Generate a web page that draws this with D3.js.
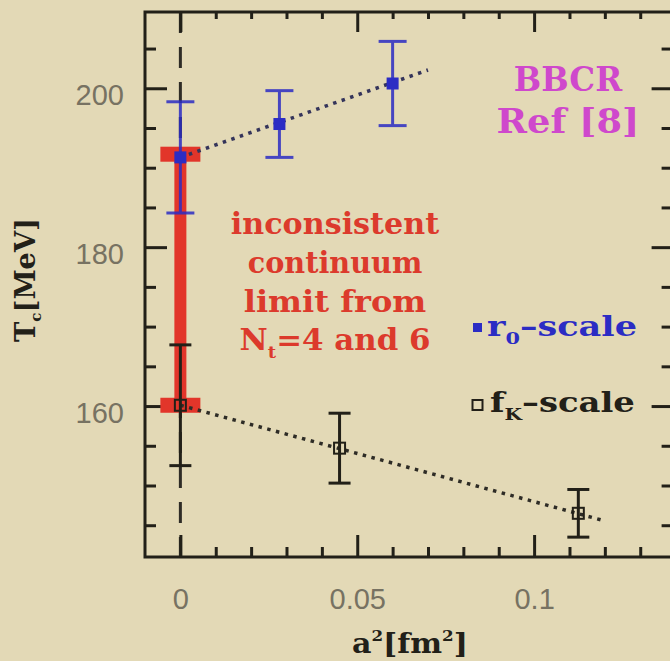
<!DOCTYPE html>
<html>
<head>
<meta charset="utf-8">
<script src="https://cdn.jsdelivr.net/npm/d3@7"></script>
<style>
  html, body { margin: 0; padding: 0; background: #e3d9b6; }
  svg { display: block; }
</style>
</head>
<body>
<svg id="chart" width="670" height="661"></svg>
<script>
// Transition temperature vs lattice spacing squared, two scale settings
const r0A2  = [0, 0.028, 0.060];          // a^2 [fm^2], r0-scale
const r0Tc  = [191.3, 195.5, 200.6];      // Tc [MeV]
const r0Err = [7.0, 4.2, 5.3];

const fkA2  = [0, 0.045, 0.1125];         // a^2 [fm^2], fK-scale
const fkTc  = [160.1, 154.7, 146.5];
const fkErr = [7.6, 4.4, 3.0];

// straight-line continuum extrapolations (end points)
const r0FitA2 = [0, 0.070];
const r0FitTc = [191.3, 202.3];
const fkFitA2 = [0, 0.1195];
const fkFitTc = [160.1, 145.6];

// spread of the two continuum values at a^2 = 0
const bandA2 = 0;
const bandTc = [160.1, 191.7];

const xMajor = [0, 0.05, 0.1];
const xTickLabels = ["0", "0.05", "0.1"];
const yMajor = [160, 180, 200];
const yTickLabels = ["160", "180", "200"];

const noteLines = ["inconsistent", "continuum", "limit from"];
const refLines = ["BBCR", "Ref [8]"];

const svg = d3.select("#chart");
const W = 670, H = 661;
const BG = "#e3d9b6", INK = "#222018";

svg.append("rect").attr("width", W).attr("height", H).attr("fill", BG);

const x = d3.scaleLinear().domain([-0.01, 0.14]).range([145, 675.6]);
const y = d3.scaleLinear().domain([141, 209.6]).range([557, 12]);
const [x0, x1] = x.range(), [y0, y1] = y.range();

// squeeze or stretch a text element horizontally to a given width
function fitWidth(sel, w, cx) {
  const bb = sel.node().getBBox();
  const sx = w / bb.width;
  const prev = sel.attr("transform") || "";
  sel.attr("transform", `${prev} translate(${cx},0) scale(${sx},1) translate(${-cx},0)`);
}

const serif = "DejaVu Serif, serif";

// vertical dashed reference line at a^2 = 0
svg.append("line")
  .attr("x1", x(0)).attr("x2", x(0)).attr("y1", y1).attr("y2", y0)
  .attr("stroke", "#2e2c26").attr("stroke-width", 3)
  .attr("stroke-dasharray", "21,14");

// ---- axes: ticks point inwards on all four sides ----
const minorX = d3.range(0.01, 0.135, 0.01).filter(v => !xMajor.some(m => Math.abs(m - v) < 1e-9));
const minorY = d3.range(145, 209, 5).filter(v => !yMajor.includes(v));

function styleAxis(g) {
  g.select(".domain").remove();
  g.selectAll(".tick line").attr("stroke", INK).attr("stroke-width", 3);
}

svg.append("g").attr("transform", `translate(0,${y0})`)
  .call(d3.axisBottom(x).tickValues(xMajor).tickSize(-22).tickPadding(31)
    .tickFormat((d, i) => xTickLabels[i]))
  .call(styleAxis)
  .call(g => g.selectAll("text").attr("font-family", "Liberation Sans, Arial, sans-serif")
    .attr("font-size", 29).attr("fill", "#777262"));
svg.append("g").attr("transform", `translate(0,${y0})`)
  .call(d3.axisBottom(x).tickValues(minorX).tickSize(-10).tickFormat(""))
  .call(styleAxis);

svg.append("g").attr("transform", `translate(0,${y1})`)
  .call(d3.axisTop(x).tickValues(xMajor).tickSize(-20).tickFormat(""))
  .call(styleAxis);
svg.append("g").attr("transform", `translate(0,${y1})`)
  .call(d3.axisTop(x).tickValues(minorX).tickSize(-7).tickFormat(""))
  .call(styleAxis);

svg.append("g").attr("transform", `translate(${x0},0)`)
  .call(d3.axisLeft(y).tickValues(yMajor).tickSize(-22).tickPadding(21)
    .tickFormat((d, i) => yTickLabels[i]))
  .call(styleAxis)
  .call(g => g.selectAll("text").attr("font-family", "Liberation Sans, Arial, sans-serif")
    .attr("font-size", 29).attr("fill", "#777262").attr("dy", "0.55em"));
svg.append("g").attr("transform", `translate(${x0},0)`)
  .call(d3.axisLeft(y).tickValues(minorY).tickSize(-11).tickFormat(""))
  .call(styleAxis);

svg.append("g").attr("transform", `translate(${x1},0)`)
  .call(d3.axisRight(y).tickValues(yMajor).tickSize(-24).tickFormat(""))
  .call(styleAxis);
svg.append("g").attr("transform", `translate(${x1},0)`)
  .call(d3.axisRight(y).tickValues(minorY).tickSize(-14).tickFormat(""))
  .call(styleAxis);

// ---- red band marking the inconsistent continuum values ----
const red = "#e2352a";
svg.append("rect")
  .attr("x", x(bandA2) - 6).attr("width", 12)
  .attr("y", y(bandTc[1])).attr("height", y(bandTc[0]) - y(bandTc[1]))
  .attr("fill", red);
svg.selectAll("rect.bandcap").data(bandTc).join("rect").attr("class", "bandcap")
  .attr("x", x(bandA2) - 20).attr("width", 40)
  .attr("y", d => y(d) - 7.5).attr("height", 15)
  .attr("fill", red);

// ---- fit lines ----
const line = d3.line().x(d => x(d[0])).y(d => y(d[1]));
svg.append("path").datum(d3.zip(r0FitA2, r0FitTc)).attr("d", line)
  .attr("fill", "none").attr("stroke", "#34345a").attr("stroke-width", 3.5)
  .attr("stroke-dasharray", "3.5,5.5");
svg.append("path").datum(d3.zip(fkFitA2, fkFitTc)).attr("d", line)
  .attr("fill", "none").attr("stroke", "#2e2c26").attr("stroke-width", 3.5)
  .attr("stroke-dasharray", "3.5,5.5");

// ---- error bars ----
function errorBars(xs, ts, es, color, cap, opacity) {
  const g = svg.append("g").attr("stroke", color).attr("stroke-width", 3).attr("opacity", opacity);
  const data = d3.zip(xs, ts, es);
  g.selectAll("line.v").data(data).join("line").attr("class", "v")
    .attr("x1", d => x(d[0])).attr("x2", d => x(d[0]))
    .attr("y1", d => y(d[1] + d[2])).attr("y2", d => y(d[1] - d[2]));
  g.selectAll("line.t").data(data).join("line").attr("class", "t")
    .attr("x1", d => x(d[0]) - cap / 2).attr("x2", d => x(d[0]) + cap / 2)
    .attr("y1", d => y(d[1] + d[2])).attr("y2", d => y(d[1] + d[2]));
  g.selectAll("line.b").data(data).join("line").attr("class", "b")
    .attr("x1", d => x(d[0]) - cap / 2).attr("x2", d => x(d[0]) + cap / 2)
    .attr("y1", d => y(d[1] - d[2])).attr("y2", d => y(d[1] - d[2]));
}
const blue = "#2b2cc4";
errorBars(r0A2, r0Tc, r0Err, blue, 28, 0.85);
errorBars(fkA2, fkTc, fkErr, INK, 22, 1);

// ---- markers ----
svg.selectAll("rect.r0").data(d3.zip(r0A2, r0Tc)).join("rect").attr("class", "r0")
  .attr("x", d => x(d[0]) - 6).attr("y", d => y(d[1]) - 6)
  .attr("width", 12).attr("height", 12).attr("fill", blue);
svg.selectAll("rect.fk").data(d3.zip(fkA2, fkTc)).join("rect").attr("class", "fk")
  .attr("x", d => x(d[0]) - 5.5).attr("y", d => y(d[1]) - 5.5)
  .attr("width", 11).attr("height", 11)
  .attr("fill", "none").attr("stroke", INK).attr("stroke-width", 2);

// ---- annotations ----
const redText = "#dc3a2c";
const noteWidths = [209, 175, 183];
const noteBase = [234, 273, 312];
noteLines.forEach((s, i) => {
  const t = svg.append("text").attr("x", 335).attr("y", noteBase[i])
    .attr("text-anchor", "middle").attr("font-family", serif).attr("font-weight", "bold")
    .attr("font-size", 29).attr("fill", redText).text(s);
  fitWidth(t, noteWidths[i], 335);
});
{
  const t = svg.append("text").attr("x", 335).attr("y", 350)
    .attr("text-anchor", "middle").attr("font-family", serif).attr("font-weight", "bold")
    .attr("font-size", 29).attr("fill", redText);
  t.append("tspan").text("N");
  t.append("tspan").attr("font-size", 17).attr("dy", 8).text("t");
  t.append("tspan").attr("dy", -8).text("=4 and 6");
  fitWidth(t, 191, 335);
}

const magenta = "#cf48cc";
const refWidths = [109, 143];
const refBase = [91, 133];
refLines.forEach((s, i) => {
  const t = svg.append("text").attr("x", 568).attr("y", refBase[i])
    .attr("text-anchor", "middle").attr("font-family", serif).attr("font-weight", "bold")
    .attr("font-size", 34).attr("fill", magenta).text(s);
  fitWidth(t, refWidths[i], 568);
});

// ---- legend ----
svg.append("rect").attr("x", 473).attr("y", 323).attr("width", 9).attr("height", 9).attr("fill", blue);
{
  const t = svg.append("text").attr("x", 487).attr("y", 336)
    .attr("font-family", serif).attr("font-weight", "bold").attr("font-size", 27).attr("fill", blue);
  t.append("tspan").text("r");
  t.append("tspan").attr("font-size", 16).attr("dy", 8).text("0");
  t.append("tspan").attr("dy", -8).text("\u2013scale");
  fitWidth(t, 150, 487);
}
svg.append("rect").attr("x", 472.5).attr("y", 400).attr("width", 10).attr("height", 10)
  .attr("fill", "none").attr("stroke", INK).attr("stroke-width", 2);
{
  const t = svg.append("text").attr("x", 490).attr("y", 412)
    .attr("font-family", serif).attr("font-weight", "bold").attr("font-size", 27).attr("fill", INK);
  t.append("tspan").text("f");
  t.append("tspan").attr("font-size", 16).attr("dy", 8).text("K");
  t.append("tspan").attr("dy", -8).text("\u2013scale");
  fitWidth(t, 145, 490);
}

// ---- axis titles ----
{
  const t = svg.append("text").attr("x", 410).attr("y", 653).attr("text-anchor", "middle")
    .attr("font-family", serif).attr("font-weight", "bold").attr("font-size", 27).attr("fill", INK);
  t.append("tspan").text("a");
  t.append("tspan").attr("font-size", 15).attr("dy", -12).text("2");
  t.append("tspan").attr("dy", 12).text("[fm");
  t.append("tspan").attr("font-size", 15).attr("dy", -12).text("2");
  t.append("tspan").attr("dy", 12).text("]");
  fitWidth(t, 116, 410);
}
{
  const g = svg.append("g").attr("transform", "translate(35,342) rotate(-90)");
  const t = g.append("text").attr("x", 0).attr("y", 0)
    .attr("font-family", serif).attr("font-weight", "bold").attr("font-size", 27).attr("fill", INK);
  t.append("tspan").text("T");
  t.append("tspan").attr("font-size", 15).attr("dy", 6).text("c");
  t.append("tspan").attr("dy", -6).text("[MeV]");
  fitWidth(t, 124, 0);
}

// ---- frame ----
svg.append("rect").attr("x", x0).attr("y", y1).attr("width", x1 - x0).attr("height", y0 - y1)
  .attr("fill", "none").attr("stroke", INK).attr("stroke-width", 3);
</script>
</body>
</html>
